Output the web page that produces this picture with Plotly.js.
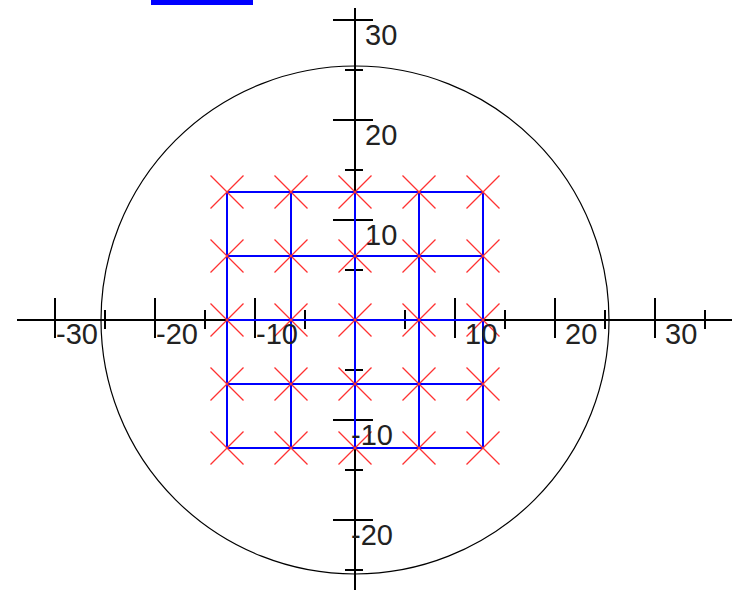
<!DOCTYPE html>
<html>
<head>
<meta charset="utf-8">
<script src="https://cdn.plot.ly/plotly-3.0.1.min.js"></script>
<style>
  html, body { margin: 0; padding: 0; background: #fff; }
  #plotArea { width: 732px; height: 590px; }
</style>
</head>
<body>
<div id="plotArea"></div>
<script>
// grid of points (same values on both axes)
var gridX = [-12.8, -6.4, 0, 6.4, 12.8];
var gridY = [-12.8, -6.4, 0, 6.4, 12.8];

// axis ticks
var majorTicks = [-30, -20, -10, 10, 20, 30];
var tickLabels = ["-30", "-20", "-10", "10", "20", "30"];
var minorTicks = [-35, -25, -15, -5, 5, 15, 25, 35];

// visible extent of the two axis lines
var xAxisSpan = [-33.8, 37.7];
var yAxisSpan = [-27, 31.2];

var circleRadius = 25.4;

var lblFont = { family: "Liberation Sans Narrow, Liberation Sans, Arial", size: 29, color: "#222" };

// axis lines
var axisX = { x: xAxisSpan, y: [0, 0], mode: "lines", line: { color: "black", width: 2 } };
var axisY = { x: [0, 0], y: yAxisSpan, mode: "lines", line: { color: "black", width: 2 } };

function onX(v) { return v > xAxisSpan[0] && v < xAxisSpan[1]; }
function onY(v) { return v > yAxisSpan[0] && v < yAxisSpan[1]; }

// ticks on both axes, null separated segments
var tx = [], ty = [];
majorTicks.forEach(function (v) {
    if (onX(v)) { tx.push(v, v, null); ty.push(2.2, -1.8, null); }
    if (onY(v)) { tx.push(-2.2, 1.8, null); ty.push(v, v, null); }
});
minorTicks.forEach(function (v) {
    if (onX(v)) { tx.push(v, v, null); ty.push(1, -0.9, null); }
    if (onY(v)) { tx.push(-1, 0.8, null); ty.push(v, v, null); }
});
var ticks = { x: tx, y: ty, mode: "lines", line: { color: "black", width: 2 } };

// blue mesh
var mx = [], my = [];
gridY.forEach(function (y) {
    mx.push(gridX[0], gridX[gridX.length - 1], null); my.push(y, y, null);
});
gridX.forEach(function (x) {
    mx.push(x, x, null); my.push(gridY[0], gridY[gridY.length - 1], null);
});
var mesh = { x: mx, y: my, mode: "lines", line: { color: "#0000ff", width: 2 } };

// red crosses at every node
var px = [], py = [];
gridY.forEach(function (y) {
    gridX.forEach(function (x) { px.push(x); py.push(y); });
});
var nodes = {
    x: px, y: py, mode: "markers",
    marker: { symbol: "x-thin", size: 33, color: "rgb(255,50,50)", line: { color: "rgb(255,50,50)", width: 1.3 } }
};

var annotations = [];
majorTicks.forEach(function (v, i) {
    annotations.push({
        x: v, y: 0, text: tickLabels[i], showarrow: false, font: lblFont,
        xanchor: "left", yanchor: "middle", xshift: v < 0 ? -1 : 8, yshift: -14
    });
    annotations.push({
        x: 0, y: v, text: tickLabels[i], showarrow: false, font: lblFont,
        xanchor: "left", yanchor: "middle", xshift: v < 0 ? -6 : 8, yshift: -15
    });
});

var layout = {
    width: 732, height: 590,
    margin: { l: 0, r: 0, t: 0, b: 0 },
    showlegend: false,
    hovermode: false,
    plot_bgcolor: "#fff", paper_bgcolor: "#fff",
    xaxis: { range: [-35.5, 37.7], visible: false, fixedrange: true },
    yaxis: { range: [-27, 32], visible: false, fixedrange: true },
    shapes: [
        { type: "circle", xref: "x", yref: "y", x0: -circleRadius, x1: circleRadius,
          y0: -circleRadius, y1: circleRadius, line: { color: "black", width: 1.2 }, layer: "below" },
        { type: "rect", xref: "paper", yref: "paper", x0: 151 / 732, x1: 253 / 732,
          y0: 1 - 5 / 590, y1: 1, fillcolor: "#0000ff", line: { width: 0 } }
    ],
    annotations: annotations
};

Plotly.newPlot("plotArea", [axisX, axisY, ticks, mesh, nodes], layout, { staticPlot: true });
</script>
</body>
</html>
